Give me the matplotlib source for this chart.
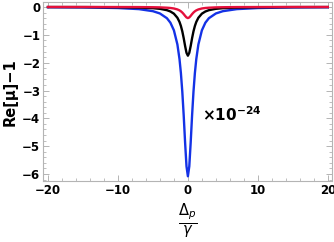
import matplotlib
matplotlib.use("Agg")
import matplotlib.pyplot as plt
from matplotlib.ticker import MultipleLocator

# detuning values (Delta_p / gamma)
x = [-20, -15, -10, -7, -5, -4, -3, -2.5, -2, -1.5, -1.2, -1.0, -0.8, -0.6, -0.4, -0.2, 0,
     0.2, 0.4, 0.6, 0.8, 1.0, 1.2, 1.5, 2, 2.5, 3, 4, 5, 7, 10, 15, 20]

# half curves (x <= 0), mirrored below
blue_half = [-0.010, -0.017, -0.039, -0.078, -0.152, -0.234, -0.404, -0.565, -0.839,
             -1.346, -1.871, -2.373, -3.04, -3.891, -4.864, -5.722, -6.08]
black_half = [-0.003, -0.005, -0.011, -0.023, -0.044, -0.067, -0.116, -0.163, -0.241,
              -0.388, -0.538, -0.683, -0.875, -1.12, -1.40, -1.647, -1.75]
red_half = [-0.001, -0.001, -0.003, -0.005, -0.010, -0.015, -0.027, -0.037, -0.055,
            -0.089, -0.123, -0.156, -0.200, -0.256, -0.320, -0.376, -0.40]

blue = blue_half + blue_half[-2::-1]
black = black_half + black_half[-2::-1]
red = red_half + red_half[-2::-1]

fig = plt.figure(figsize=(3.34, 2.42), dpi=100)
ax = fig.add_axes([0.129, 0.252, 0.865, 0.740])

ax.plot(x, blue, color="#1432e6", lw=1.7)
ax.plot(x, black, color="black", lw=1.7)
ax.plot(x, red, color="#e4103c", lw=1.7)

ax.set_xlim(-20.7, 20.6)
ax.set_ylim(-6.25, 0.18)
ax.xaxis.set_major_locator(MultipleLocator(10))
ax.xaxis.set_minor_locator(MultipleLocator(2))
ax.yaxis.set_major_locator(MultipleLocator(1))
ax.yaxis.set_minor_locator(MultipleLocator(0.2))

for s in ax.spines.values():
    s.set_color("#b4b4b4")
    s.set_linewidth(0.8)
ax.tick_params(which="both", direction="in", color="#b4b4b4",
               top=True, right=True, labelsize=8.5, pad=2)
ax.tick_params(which="major", length=4, width=0.7)
ax.tick_params(which="minor", length=2, width=0.6)
ax.set_xticks([-20, -10, 0, 10, 20])
ax.set_xticklabels(["\u221220", "\u221210", "0", "10", "20"], fontweight="bold")
ax.set_yticks([0, -1, -2, -3, -4, -5, -6])
ax.set_yticklabels(["0", "\u22121", "\u22122", "\u22123", "\u22124", "\u22125", "\u22126"],
                   fontweight="bold")

fig.text(0.03, 0.62, "Re[\u03bc]\u22121", rotation=90, ha="center", va="center",
         fontsize=10.5, fontweight="bold")
fig.text(0.605, 0.525, r"$\mathbf{\times 10^{-24}}$", ha="left", va="center",
         fontsize=11, fontweight="bold")
fig.text(0.562, 0.085, r"$\frac{\Delta_p}{\gamma}$", ha="center", va="center",
         fontsize=15)

fig.savefig("out.png", dpi=100)
